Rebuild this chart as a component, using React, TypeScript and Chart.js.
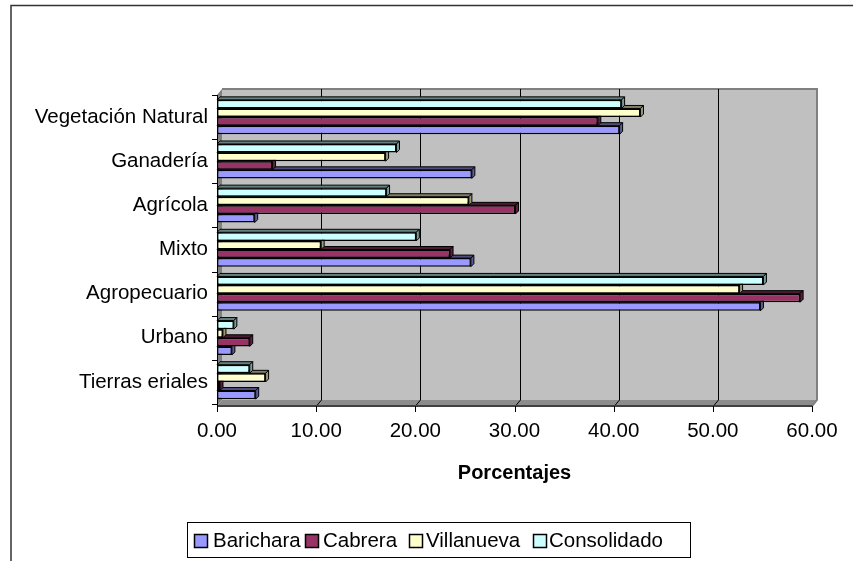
import React, { useEffect, useRef } from "react";
import { Chart, registerables } from "chart.js";

Chart.register(...registerables);

const categories = [
  "Vegetación Natural",
  "Ganadería",
  "Agrícola",
  "Mixto",
  "Agropecuario",
  "Urbano",
  "Tierras eriales",
];
const barichara = [40.6, 25.7, 3.8, 25.6, 54.8, 1.5, 3.9];
const cabrera = [38.4, 5.6, 30.1, 23.5, 58.8, 3.3, 0.3];
const villanueva = [42.7, 17.0, 25.4, 10.5, 52.7, 0.6, 4.9];
const consolidado = [40.8, 18.1, 17.1, 20.1, 55.1, 1.7, 3.3];

const seriesNames = ["Barichara", "Cabrera", "Villanueva", "Consolidado"];
const seriesValues = [barichara, cabrera, villanueva, consolidado];
const seriesColors = ["#9999FF", "#993366", "#FFFFCC", "#CCFFFF"];
const sideColors = ["#5C5C99", "#5C1F3D", "#99997A", "#7A9999"];
const topColors = ["#4D4D80", "#4D1A33", "#808066", "#668080"];

const xTickValues = [0, 10, 20, 30, 40, 50, 60];
const xTitle = "Porcentajes";

const FONT = "'Liberation Sans', Arial, sans-serif";
const DX = 5;
const DY = 6;
const BD = 3;

// legend layout (pixel positions of squares and texts)
const legendSquareX = [194, 305, 409, 533];
const legendTextX = [213, 323, 426, 549];

const wallPlugin = {
  id: "walls",
  beforeDraw(chart: any) {
    const ctx = chart.ctx;
    const ca = chart.chartArea;
    const xs = chart.scales.x;
    const L = ca.left, R = ca.right, T = ca.top;
    const FB = ca.bottom + 2;
    ctx.save();
    ctx.fillStyle = "#FFFFFF";
    ctx.fillRect(0, 0, chart.width, chart.height);
    // back wall
    ctx.fillStyle = "#C0C0C0";
    ctx.fillRect(L + DX, T - DY, R - L, FB - T);
    // left wall
    ctx.fillStyle = "#808080";
    ctx.beginPath();
    ctx.moveTo(L, T);
    ctx.lineTo(L + DX, T - DY);
    ctx.lineTo(L + DX, FB - DY);
    ctx.lineTo(L, FB);
    ctx.closePath();
    ctx.fill();
    // floor
    ctx.fillStyle = "#8C8C8C";
    ctx.beginPath();
    ctx.moveTo(L, FB);
    ctx.lineTo(L + DX, FB - DY);
    ctx.lineTo(R + DX, FB - DY);
    ctx.lineTo(R, FB);
    ctx.closePath();
    ctx.fill();
    // wall borders
    ctx.strokeStyle = "#808080";
    ctx.lineWidth = 2;
    ctx.beginPath();
    ctx.moveTo(L + DX, T - DY);
    ctx.lineTo(R + DX, T - DY);
    ctx.lineTo(R + DX, FB - DY);
    ctx.lineTo(R, FB);
    ctx.stroke();
    // gridlines
    ctx.strokeStyle = "#000000";
    ctx.lineWidth = 1;
    xTickValues.forEach((v) => {
      if (v === 0 || v === 60) return;
      const x = Math.round(xs.getPixelForValue(v)) + 0.5;
      ctx.beginPath();
      ctx.moveTo(x + DX, T - DY);
      ctx.lineTo(x + DX, FB - DY);
      ctx.lineTo(x, FB);
      ctx.stroke();
    });
    ctx.restore();
  },
  beforeDatasetsDraw(chart: any) {
    const ctx = chart.ctx;
    ctx.save();
    ctx.lineWidth = 1;
    ctx.strokeStyle = "#000000";
    const n = chart.data.datasets.length;
    for (let di = n - 1; di >= 0; di--) {
      const meta = chart.getDatasetMeta(di);
      const ci = n - 1 - di;
      meta.data.forEach((el: any) => {
        const p = el.getProps(["x", "y", "base", "height"], true);
        const x = p.x, y = p.y, base = p.base, h = p.height;
        const yt = y - h / 2, yb = y + h / 2;
        ctx.fillStyle = topColors[ci];
        ctx.beginPath();
        ctx.moveTo(base, yt);
        ctx.lineTo(base + BD, yt - BD);
        ctx.lineTo(x + BD, yt - BD);
        ctx.lineTo(x, yt);
        ctx.closePath();
        ctx.fill();
        ctx.stroke();
        ctx.fillStyle = sideColors[ci];
        ctx.beginPath();
        ctx.moveTo(x, yt);
        ctx.lineTo(x + BD, yt - BD);
        ctx.lineTo(x + BD, yb - BD);
        ctx.lineTo(x, yb);
        ctx.closePath();
        ctx.fill();
        ctx.stroke();
      });
    }
    ctx.restore();
  },
  afterDatasetsDraw(chart: any) {
    const ctx = chart.ctx;
    const ca = chart.chartArea;
    const xs = chart.scales.x;
    const L = ca.left, R = ca.right, T = ca.top, B = ca.bottom;
    const FB = B + 2;
    ctx.save();
    ctx.strokeStyle = "#404040";
    ctx.lineWidth = 2;
    ctx.beginPath();
    ctx.moveTo(L, FB);
    ctx.lineTo(R, FB);
    ctx.stroke();
    ctx.strokeStyle = "#000000";
    ctx.lineWidth = 1;
    ctx.beginPath();
    ctx.moveTo(L + 0.5, T);
    ctx.lineTo(L + 0.5, FB + 5);
    ctx.stroke();
    const nc = categories.length;
    for (let i = 0; i <= nc; i++) {
      const y = Math.round(T + (i * (B - T)) / nc) + 0.5;
      ctx.beginPath();
      ctx.moveTo(L - 5, y);
      ctx.lineTo(L, y);
      ctx.stroke();
    }
    xTickValues.forEach((v) => {
      const x = Math.round(xs.getPixelForValue(v)) + 0.5;
      ctx.beginPath();
      ctx.moveTo(x, FB);
      ctx.lineTo(x, FB + 6);
      ctx.stroke();
    });
    ctx.restore();
  },
  afterDraw(chart: any) {
    const ctx = chart.ctx;
    ctx.save();
    // outer frame (cropped)
    ctx.strokeStyle = "#333333";
    ctx.lineWidth = 1.5;
    ctx.beginPath();
    ctx.moveTo(11, chart.height + 2);
    ctx.lineTo(11, 5.5);
    ctx.lineTo(chart.width + 2, 5.5);
    ctx.stroke();

    // legend
    const bx = 187, by = 522, bw = 503, bh = 35;
    ctx.fillStyle = "#FFFFFF";
    ctx.fillRect(bx, by, bw, bh);
    ctx.strokeStyle = "#000000";
    ctx.lineWidth = 1;
    ctx.strokeRect(bx + 0.5, by + 0.5, bw, bh);
    ctx.font = `20.5px ${FONT}`;
    ctx.textBaseline = "middle";
    ctx.textAlign = "left";
    const sq = 13;
    const cy = by + bh / 2 + 0.5;
    seriesNames.forEach((name, i) => {
      const sx = legendSquareX[i] + 0.5;
      const sy = Math.round(cy - sq / 2) + 0.5;
      ctx.fillStyle = seriesColors[i];
      ctx.fillRect(sx, sy, sq, sq);
      ctx.lineWidth = 1.5;
      ctx.strokeStyle = "#000000";
      ctx.strokeRect(sx, sy, sq, sq);
      ctx.fillStyle = "#000000";
      ctx.fillText(name, legendTextX[i], cy + 1);
    });
    ctx.restore();
  },
};

export default function App() {
  const ref = useRef<HTMLCanvasElement | null>(null);

  useEffect(() => {
    if (!ref.current) return;
    const order = [3, 2, 1, 0];
    const chart = new Chart(ref.current, {
      type: "bar",
      data: {
        labels: categories,
        datasets: order.map((i) => ({
          label: seriesNames[i],
          data: seriesValues[i],
          backgroundColor: seriesColors[i],
          borderColor: "#000000",
          borderWidth: 1.5,
          borderSkipped: false,
          categoryPercentage: 0.78,
          barPercentage: 1,
        })),
      },
      options: {
        indexAxis: "y",
        animation: false,
        responsive: false,
        maintainAspectRatio: false,
        layout: { padding: { left: 0, top: 95, right: 41, bottom: 76 } },
        plugins: {
          legend: { display: false },
          tooltip: { enabled: false },
          title: { display: false },
        },
        scales: {
          x: {
            type: "linear",
            min: 0,
            max: 60,
            position: "bottom",
            grid: { display: false },
            border: { display: false },
            ticks: {
              stepSize: 10,
              color: "#000000",
              font: { family: FONT, size: 20.5 },
              padding: 7,
              maxRotation: 0,
              callback: (v: any) => Number(v).toFixed(2),
            },
            title: {
              display: true,
              text: xTitle,
              color: "#000000",
              font: { family: FONT, size: 20, weight: "bold" },
              padding: { top: 0, bottom: 0 },
            },
            afterFit: (s: any) => {
              s.height = 81;
            },
          },
          y: {
            type: "category",
            grid: { display: false },
            border: { display: false },
            ticks: {
              color: "#000000",
              font: { family: FONT, size: 20.5 },
              padding: 1,
            },
            afterFit: (s: any) => {
              s.width = 217;
            },
          },
        },
      } as any,
      plugins: [wallPlugin],
    });
    return () => chart.destroy();
  }, []);

  return (
    <div style={{ position: "absolute", left: 0, top: 0, width: 853, height: 561, background: "#fff" }}>
      <canvas ref={ref} width={853} height={561} style={{ display: "block", width: 853, height: 561 }} />
    </div>
  );
}
